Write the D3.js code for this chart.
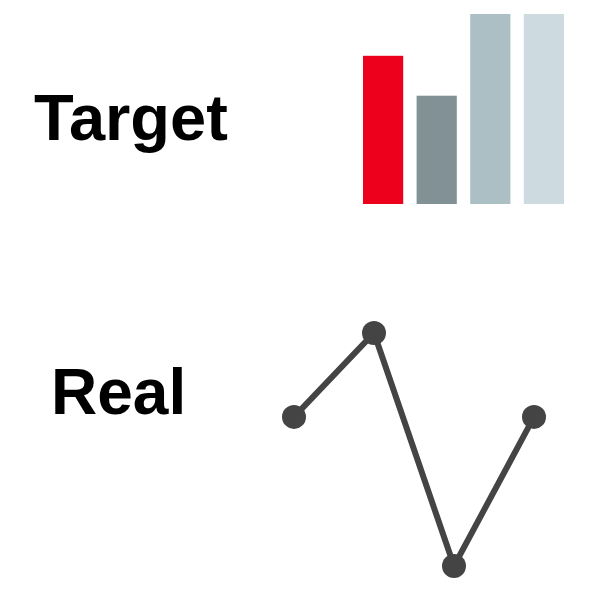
<!doctype html>
<html lang="en-US">
<head>
<meta charset="UTF-8">
<title>Target vs Real</title>
<script src="https://cdn.jsdelivr.net/npm/d3@7"></script>
<style>
  body { margin:0; background:#fff; }
  #viz text { font-family: "Liberation Sans", Arial, Helvetica, sans-serif; font-weight: bold; fill:#000; }
</style>
</head>
<body>

<div id="viz"></div>

<script type="text/javascript">

// data
var barCats = ['a', 'b', 'c', 'd'];
var barValues = [78, 57, 100, 100];
var barColors = ['#ec001c', '#819196', '#abbfc4', '#cddbe0'];

var lineCats = ['a', 'b', 'c', 'd'];
var lineValues = [64, 100, 0, 64];

var labels = ['Target', 'Real'];

var w = 590, h = 592;

var vis = d3.select('#viz').append('svg').attr('width', w).attr('height', h);

// labels
vis.append('text')
  .attr('x', 34).attr('y', 140)
  .attr('font-size', 65)
  .text(labels[0]);

vis.append('text')
  .attr('x', 51).attr('y', 414)
  .attr('font-size', 64)
  .text(labels[1]);

// bars
var xb = d3.scaleBand().domain(barCats).range([363, 564]).paddingInner(0.25);
var yb = d3.scaleLinear().domain([0, 100]).range([204, 14]);

vis.selectAll('rect').data(barValues).enter().append('rect')
  .attr('x', function(d, ii) { return xb(barCats[ii]); })
  .attr('y', function(d) { return yb(d); })
  .attr('width', xb.bandwidth())
  .attr('height', function(d) { return yb(0) - yb(d); })
  .attr('fill', function(d, ii) { return barColors[ii]; });

// line with dots
var xl = d3.scalePoint().domain(lineCats).range([294, 534]);
var yl = d3.scaleLinear().domain([0, 100]).range([566, 333]);

var line = d3.line()
  .x(function(d, ii) { return xl(lineCats[ii]); })
  .y(function(d) { return yl(d); });

vis.append('path')
  .datum(lineValues)
  .attr('d', line)
  .attr('fill', 'none')
  .attr('stroke', '#444')
  .attr('stroke-width', 6);

vis.selectAll('circle').data(lineValues).enter().append('circle')
  .attr('cx', function(d, ii) { return xl(lineCats[ii]); })
  .attr('cy', function(d) { return yl(d); })
  .attr('r', 12)
  .attr('fill', '#444');

</script>

</body>
</html>
